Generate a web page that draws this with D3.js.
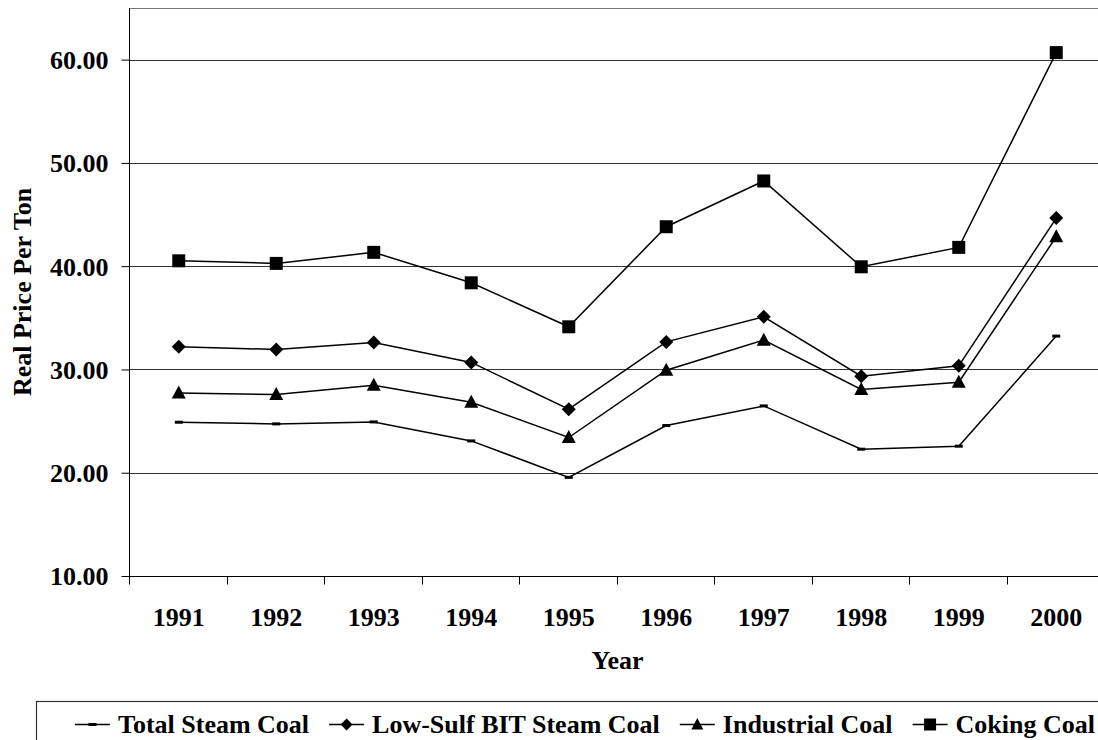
<!DOCTYPE html>
<html>
<head>
<meta charset="utf-8">
<script src="https://cdn.jsdelivr.net/npm/d3@7"></script>
<style>
  html, body { margin: 0; padding: 0; background: #fff; }
  svg { display: block; }
  text { font-family: "Liberation Serif", "Times New Roman", serif; font-weight: bold; fill: #000; }
</style>
</head>
<body>
<svg id="chart" width="1098" height="740"></svg>
<script>
const years = ["1991","1992","1993","1994","1995","1996","1997","1998","1999","2000"];
const totalSteam = [24.89, 24.73, 24.92, 23.08, 19.55, 24.57, 26.47, 22.28, 22.57, 33.23];
const lowSulf    = [32.19, 31.94, 32.62, 30.68, 26.15, 32.67, 35.10, 29.35, 30.35, 44.66];
const industrial = [27.73, 27.57, 28.48, 26.83, 23.41, 29.93, 32.84, 28.06, 28.77, 42.85];
const coking     = [40.52, 40.27, 41.34, 38.39, 34.13, 43.82, 48.25, 39.94, 41.82, 60.68];
const yTicks = [10, 20, 30, 40, 50, 60];
const seriesNames = ["Total Steam Coal", "Low-Sulf BIT Steam Coal", "Industrial Coal", "Coking Coal"];
const seriesMarkers = ["dash", "diamond", "triangle", "square"];

const series = [totalSteam, lowSulf, industrial, coking].map((vals, i) => ({
  name: seriesNames[i], marker: seriesMarkers[i],
  values: vals.map((v, j) => ({ year: years[j], value: v }))
}));

const svg = d3.select("#chart");
const plotLeft = 130, plotRight = 1105, plotTop = 8, plotBottom = 576;

const x = d3.scaleBand().domain(years).range([plotLeft, plotRight]);
const y = d3.scaleLinear().domain([10, 65]).range([plotBottom, plotTop]);

// gridlines
svg.append("g").selectAll("line")
  .data(yTicks.filter(t => t > 10))
  .join("line")
  .attr("x1", plotLeft).attr("x2", plotRight)
  .attr("y1", d => Math.round(y(d)) + 0.5).attr("y2", d => Math.round(y(d)) + 0.5)
  .attr("stroke", "#333").attr("stroke-width", 1);
// top border
svg.append("line")
  .attr("x1", plotLeft).attr("x2", plotRight)
  .attr("y1", plotTop + 0.5).attr("y2", plotTop + 0.5)
  .attr("stroke", "#777").attr("stroke-width", 1);

// y axis
const yAxis = d3.axisLeft(y).tickValues(yTicks).tickSize(8).tickPadding(12)
  .tickFormat(d => d.toFixed(2));
const gy = svg.append("g").attr("transform", `translate(${plotLeft - 0.5},0)`).call(yAxis);
gy.select(".domain").attr("stroke", "#000").attr("d", `M0,${plotTop}V${plotBottom}`);
gy.selectAll(".tick line").attr("stroke", "#000");
gy.selectAll(".tick text").style("font-size", "26px").attr("dy", "0.34em").attr("x", -21);

// x axis
const gx = svg.append("g").attr("transform", `translate(0,${plotBottom + 0.5})`);
gx.append("line").attr("x1", plotLeft - 8).attr("x2", plotRight)
  .attr("stroke", "#000");
gx.selectAll(".xt").data(years.concat(["end"]))
  .join("line").attr("class", "xt")
  .attr("x1", (d, i) => Math.round(i < years.length ? x(d) : plotRight) - 0.5)
  .attr("x2", (d, i) => Math.round(i < years.length ? x(d) : plotRight) - 0.5)
  .attr("y1", 0).attr("y2", 8).attr("stroke", "#000");
gx.selectAll(".xl").data(years).join("text").attr("class", "xl")
  .attr("x", d => x(d) + x.bandwidth() / 2)
  .attr("y", 49)
  .attr("text-anchor", "middle")
  .style("font-size", "26px")
  .text(d => d);

// axis titles
svg.append("text")
  .attr("x", (plotLeft + plotRight) / 2).attr("y", 669)
  .attr("text-anchor", "middle").style("font-size", "26px").text("Year");
svg.append("text")
  .attr("transform", `translate(31,${(plotTop + plotBottom) / 2}) rotate(-90)`)
  .attr("text-anchor", "middle").style("font-size", "26px").text("Real Price Per Ton");

// lines
const line = d3.line()
  .x(d => x(d.year) + x.bandwidth() / 2)
  .y(d => y(d.value));
svg.append("g").selectAll("path")
  .data(series).join("path")
  .attr("d", d => line(d.values))
  .attr("fill", "none").attr("stroke", "#000").attr("stroke-width", 1.5);

// markers
function markerPath(type) {
  switch (type) {
    case "square": return "M-6.5,-6.5H6.5V6.5H-6.5Z";
    case "diamond": return "M0,-7L7,0L0,7L-7,0Z";
    case "triangle": return "M0,-7.5L7,5.5H-7Z";
    default: return "M-4,-1.5H4V1.5H-4Z";
  }
}
series.forEach(s => {
  svg.append("g").selectAll("path")
    .data(s.values).join("path")
    .attr("transform", d => `translate(${x(d.year) + x.bandwidth() / 2},${y(d.value)})`)
    .attr("d", markerPath(s.marker))
    .attr("fill", "#000");
});

// legend
const lg = svg.append("g");
lg.append("rect").attr("x", 36.5).attr("y", 701.5).attr("width", 1200).attr("height", 80)
  .attr("fill", "none").attr("stroke", "#333").attr("stroke-width", 1.2);
// lay out right-to-left ending at 1095
let cursor = 1095;
const items = series.slice().reverse();
items.forEach(s => {
  const t = lg.append("text").attr("y", 733).style("font-size", "26px").text(s.name);
  const w = t.node().getComputedTextLength();
  const tx = cursor - w;
  t.attr("x", tx);
  const sx = tx - 8 - 35;
  lg.append("line").attr("x1", sx).attr("x2", sx + 35).attr("y1", 724.5).attr("y2", 724.5)
    .attr("stroke", "#000").attr("stroke-width", 1.5);
  lg.append("path").attr("transform", `translate(${sx + 17.5},724.5)`)
    .attr("d", s.marker === "dash" ? "M-4,-1.5H4V1.5H-4Z" :
      s.marker === "square" ? "M-6,-6H6V6H-6Z" :
      s.marker === "diamond" ? "M0,-6L6,0L0,6L-6,0Z" : "M0,-6.5L6,5H-6Z")
    .attr("fill", "#000");
  cursor = sx - 20;
});
</script>
</body>
</html>
